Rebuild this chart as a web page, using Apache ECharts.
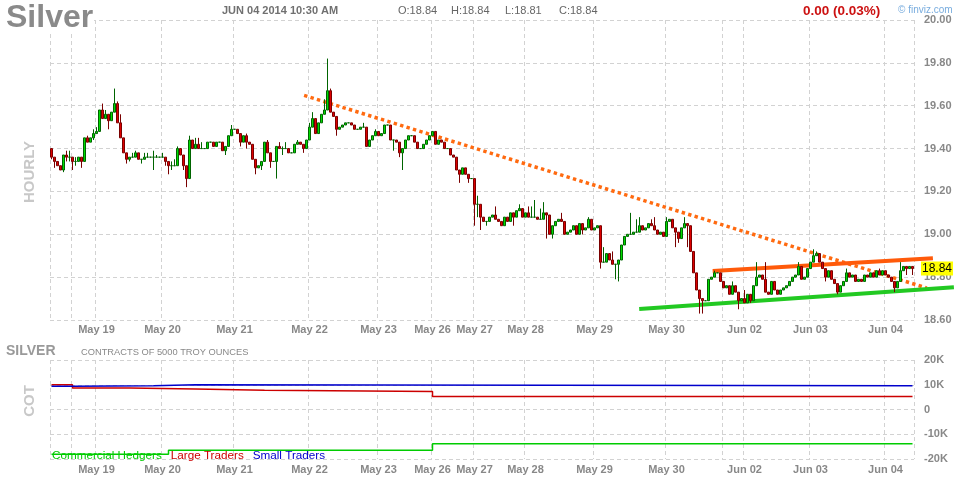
<!DOCTYPE html>
<html><head><meta charset="utf-8">
<script src="https://cdn.jsdelivr.net/npm/echarts@6/dist/echarts.min.js"></script>
<style>html,body{margin:0;padding:0;background:#fff}#c{width:964px;height:480px}</style>
</head><body><div id="c"></div>
<script>
// ---------- data ----------
const firstOpen = 19.40;
const closes = [
19.36,19.34,19.32,19.30,19.37,19.36,19.36,19.34,19.34,19.36,
19.34,19.45,19.43,19.45,19.47,19.48,19.58,19.54,19.56,19.53,
19.57,19.61,19.52,19.45,19.38,19.35,19.36,19.36,19.38,19.35,
19.35,19.36,19.36,19.36,19.36,19.36,19.36,19.36,19.34,19.32,
19.32,19.32,19.40,19.37,19.32,19.26,19.44,19.40,19.42,19.40,
19.40,19.40,19.43,19.43,19.41,19.43,19.43,19.39,19.41,19.46,
19.49,19.49,19.47,19.43,19.46,19.43,19.42,19.35,19.31,19.32,
19.34,19.43,19.38,19.34,19.34,19.41,19.40,19.40,19.40,19.38,
19.38,19.42,19.43,19.42,19.40,19.44,19.50,19.54,19.47,19.52,
19.56,19.58,19.67,19.57,19.55,19.49,19.50,19.51,19.52,19.52,
19.51,19.49,19.49,19.50,19.50,19.41,19.44,19.46,19.48,19.46,
19.47,19.51,19.51,19.44,19.44,19.43,19.38,19.40,19.44,19.46,
19.46,19.43,19.40,19.40,19.42,19.44,19.46,19.48,19.42,19.44,
19.43,19.40,19.40,19.37,19.36,19.30,19.28,19.31,19.28,19.26,
19.26,19.14,19.14,19.08,19.06,19.06,19.08,19.09,19.07,19.06,
19.04,19.08,19.06,19.10,19.08,19.11,19.12,19.08,19.10,19.08,
19.08,19.08,19.07,19.07,19.10,19.09,19.00,19.04,19.06,19.07,
19.06,19.00,19.01,19.02,19.04,19.00,19.05,19.02,19.03,19.07,
19.02,19.03,19.04,18.87,18.87,18.91,18.88,18.86,18.86,18.88,
18.95,18.99,19.00,19.00,19.01,19.01,19.04,19.02,19.03,19.05,
19.04,19.02,19.00,19.01,18.99,19.06,19.07,19.03,19.01,18.98,
19.03,19.05,19.04,18.92,18.82,18.74,18.70,18.69,18.69,18.79,
18.80,18.82,18.82,18.78,18.75,18.76,18.72,18.76,18.73,18.69,
18.70,18.68,18.72,18.69,18.76,18.80,18.81,18.79,18.73,18.72,
18.78,18.74,18.72,18.74,18.75,18.76,18.78,18.80,18.81,18.85,
18.79,18.80,18.84,18.87,18.90,18.91,18.87,18.84,18.80,18.83,
18.79,18.77,18.73,18.76,18.78,18.82,18.80,18.81,18.78,18.79,
18.78,18.81,18.80,18.82,18.80,18.83,18.81,18.83,18.81,18.80,
18.78,18.75,18.78,18.83,18.85,18.84,18.85,18.84
];
const wickHighs = [[0,19.40],[5,19.39],[6,19.39],[8,19.36],[12,19.46],[14,19.49],[15,19.50],[17,19.61],[18,19.58],[21,19.68],[22,19.62],[23,19.56],[27,19.38],[28,19.39],[31,19.38],[32,19.38],[34,19.39],[35,19.37],[37,19.38],[40,19.34],[41,19.35],[42,19.41],[46,19.46],[48,19.45],[49,19.45],[50,19.43],[60,19.51],[65,19.47],
[72,19.44],[76,19.43],[77,19.41],[78,19.43],[82,19.44],[86,19.52],[87,19.57],[91,19.63],[92,19.82],[93,19.68],[104,19.52],[108,19.49],
[142,19.18],[148,19.13],[156,19.14],[159,19.13],[160,19.13],[161,19.16],[163,19.12],[164,19.15],[170,19.10],[179,19.08],
[184,18.94],[187,18.92],[193,19.10],[195,19.07],[196,19.08],[200,19.07],[201,19.08],[205,19.08],[211,19.08],
[221,18.83],[227,18.78],[231,18.74],[235,18.87],[238,18.87],[249,18.87],[254,18.93],[255,18.92],[265,18.84],[276,18.84],[283,18.87]];
const wickLows = [[0,19.35],[1,19.31],[4,19.29],[5,19.34],[6,19.34],[7,19.30],[8,19.32],[10,19.31],[14,19.44],[19,19.49],[25,19.33],[26,19.34],[30,19.33],[34,19.30],[38,19.32],[39,19.28],[40,19.30],[44,19.30],[45,19.22],[58,19.37],[63,19.41],[65,19.40],[68,19.28],[70,19.30],
[73,19.31],[75,19.26],[77,19.37],[84,19.38],[95,19.46],[114,19.39],[116,19.36],[117,19.30],[136,19.24],[139,19.24],[141,19.04],[142,19.08],
[143,19.02],[145,19.04],[154,19.04],[165,18.98],[167,18.98],[177,19.00],
[183,18.84],[188,18.79],[189,18.78],[208,18.94],[209,18.96],[212,18.94],
[216,18.63],[217,18.63],[229,18.65],[233,18.68],[258,18.78],[262,18.72],[281,18.73],[285,18.81],[287,18.81]];

const dayLabels = ['May 19','May 20','May 21','May 22','May 23','May 26','May 27','May 28','May 29','May 30','Jun 02','Jun 03','Jun 04'];
const dayStarts = [15,37,61,86,109,127,141,158,181,205,231,253,278];
const extraGridStarts = [7,224];
const lastPrice = 18.84;

// COT (thousands of contracts), [bar index, value]
const commercialHedgers = [[0,-18.1],[39,-16.5],[127,-13.8],[287,-13.8]];
const largeTraders = [[0,10.0],[7,8.7],[26,8.3],[48,7.8],[71,7.3],[127,5.3],[287,5.3]];
const smallTraders = [[0,9.4],[7,9.6],[34,10.0],[48,9.6],[287,9.6]];

// trend lines, [bar position, price]
const downTrend = [[84.7,19.648],[292.3,18.749]];
const upperChannel = [[220.9,18.829],[294.3,18.888]];
const lowerChannel = [[196.4,18.651],[301.3,18.753]];

// ---------- build ----------
const FONT = '"Liberation Sans", Arial, sans-serif';
const N = closes.length;
const hiMap = {}, loMap = {};
wickHighs.forEach(([i,v]) => hiMap[i] = v);
wickLows.forEach(([i,v]) => loMap[i] = v);
const candles = closes.map((c,i) => {
  const o = i === 0 ? firstOpen : closes[i-1];
  let h = Math.max(o,c), l = Math.min(o,c);
  if (hiMap[i] != null) h = Math.max(h, hiMap[i]);
  if (loMap[i] != null) l = Math.min(l, loMap[i]);
  return [o,c,l,h];
});
const cats = [];
for (let i = 0; i < N; i++) {
  let lab = 'May 16';
  for (let k = 0; k < dayStarts.length; k++) if (i >= dayStarts[k]) lab = dayLabels[k];
  cats.push(lab);
}
const labelSet = new Set(dayStarts);
const gridSet = new Set(dayStarts.concat(extraGridStarts));
const dash = {color:'#d2d2d2', width:1, type:[4,3]};
const axLabel = {color:'#888', fontSize:11, fontWeight:'bold', fontFamily:FONT};

function catAxis(g, margin) {
  return {
    type:'category', gridIndex:g, data:cats, boundaryGap:true,
    axisLine:{show:false}, axisTick:{show:false},
    axisLabel:Object.assign({margin:margin, interval:(idx)=>labelSet.has(idx), hideOverlap:false}, axLabel),
    splitLine:{show:true, interval:(idx)=>gridSet.has(idx), lineStyle:dash}
  };
}
function edgeAxis(g) {
  return {type:'value', gridIndex:g, min:0, max:N, interval:N,
    axisLine:{show:false}, axisTick:{show:false}, axisLabel:{show:false},
    splitLine:{show:true, lineStyle:dash}};
}
// wide overlay grid for trend lines that run past the plot's right edge (3 px per bar, like the candles)
const overlayWidth = 914;
const lineFont = {fontSize:11.7, fontFamily:FONT};

const chart = echarts.init(document.getElementById('c'), null, {renderer:'canvas'});
const option = {
  animation:false,
  backgroundColor:'#fff',
  textStyle:{fontFamily:FONT},
  grid:[{left:50, right:50, top:20, height:300}, {left:50, right:50, top:360, height:99},
        {left:50, width:overlayWidth, top:20, height:300}],
  xAxis:[catAxis(0,4), edgeAxis(0), catAxis(1,5), edgeAxis(1),
         {type:'value', gridIndex:2, min:0, max:overlayWidth/3, show:false}],
  yAxis:[
    {type:'value', gridIndex:0, position:'right', min:18.6, max:20, interval:0.2,
     axisLine:{show:false}, axisTick:{show:false},
     axisLabel:Object.assign({margin:10, formatter:(v)=>v.toFixed(2)}, axLabel),
     splitLine:{show:true, lineStyle:dash}},
    {type:'value', gridIndex:1, position:'right', min:-20, max:20, interval:10,
     axisLine:{show:false}, axisTick:{show:false},
     axisLabel:Object.assign({margin:10, formatter:(v)=> v===0 ? '0' : (v + 'K')}, axLabel),
     splitLine:{show:true, lineStyle:dash}},
    {type:'value', gridIndex:2, min:18.6, max:20, show:false}
  ],
  legend:{left:42, top:445, icon:'none', itemWidth:0, itemHeight:10, itemGap:4, selectedMode:false,
    textStyle:lineFont,
    data:[{name:'Commercial Hedgers', textStyle:Object.assign({color:'#00cc00'}, lineFont)},
          {name:'Large Traders', textStyle:Object.assign({color:'#cc0000'}, lineFont)},
          {name:'Small Traders', textStyle:Object.assign({color:'#0000cc'}, lineFont)}]},
  series:[
    {type:'line', name:'down trend', xAxisIndex:4, yAxisIndex:2, data:downTrend, clip:false, symbol:'none', z:1,
     lineStyle:{color:'#ff6a10', width:3.5, type:[3.4,3.3], cap:'butt'}},
    {type:'line', name:'upper channel', xAxisIndex:4, yAxisIndex:2, data:upperChannel, clip:false, symbol:'none', z:1,
     lineStyle:{color:'#ff5a0a', width:4}},
    {type:'line', name:'lower channel', xAxisIndex:4, yAxisIndex:2, data:lowerChannel, clip:false, symbol:'none', z:1,
     lineStyle:{color:'#22c922', width:4}},
    {type:'candlestick', name:'Silver', xAxisIndex:0, yAxisIndex:0, data:candles, barWidth:2.6, z:3,
     itemStyle:{color:'#00dd00', color0:'#dd0000', borderColor:'#006400', borderColor0:'#7a0000', borderColorDoji:'#006400', borderWidth:1},
     markLine:{silent:true, symbol:['none','none'], animation:false, data:[{yAxis:lastPrice}],
       lineStyle:{color:'rgba(255,255,255,0)', width:0},
       label:{show:true, position:'end', distance:7, formatter:lastPrice.toFixed(2), backgroundColor:'#ffff00',
         color:'#000', fontSize:12, fontFamily:FONT, padding:[1,1,1,1], opacity:1}}},
    {type:'line', name:'Commercial Hedgers', xAxisIndex:2, yAxisIndex:1, data:commercialHedgers, step:'end', symbol:'none',
     lineStyle:{color:'#00cc00', width:1.5}, itemStyle:{color:'#00cc00'}},
    {type:'line', name:'Large Traders', xAxisIndex:2, yAxisIndex:1, data:largeTraders, step:'end', symbol:'none',
     lineStyle:{color:'#cc0000', width:1.5}, itemStyle:{color:'#cc0000'}},
    {type:'line', name:'Small Traders', xAxisIndex:2, yAxisIndex:1, data:smallTraders, step:'end', symbol:'none',
     lineStyle:{color:'#0000cc', width:1.5}, itemStyle:{color:'#0000cc'}}
  ],
  graphic:[
    {type:'rect', shape:{x:4, y:2, width:90, height:30}, style:{fill:'#fff'}, z:10},
    {type:'text', x:6, y:18, z:11, style:{text:'Silver', font:'bold 32px ' + FONT, fill:'#8a8a8a', textVerticalAlign:'middle', verticalAlign:'middle'}},
    {type:'text', x:222, y:11, z:11, style:{text:'JUN 04 2014 10:30 AM', font:'bold 11px ' + FONT, fill:'#707070', textVerticalAlign:'middle', verticalAlign:'middle'}},
    {type:'text', x:398, y:11, z:11, style:{text:'O:18.84', font:'11px ' + FONT, fill:'#666', textVerticalAlign:'middle', verticalAlign:'middle'}},
    {type:'text', x:451, y:11, z:11, style:{text:'H:18.84', font:'11px ' + FONT, fill:'#666', textVerticalAlign:'middle', verticalAlign:'middle'}},
    {type:'text', x:505, y:11, z:11, style:{text:'L:18.81', font:'11px ' + FONT, fill:'#666', textVerticalAlign:'middle', verticalAlign:'middle'}},
    {type:'text', x:559, y:11, z:11, style:{text:'C:18.84', font:'11px ' + FONT, fill:'#666', textVerticalAlign:'middle', verticalAlign:'middle'}},
    {type:'text', x:803, y:11, z:11, style:{text:'0.00 (0.03%)', font:'bold 13.5px ' + FONT, fill:'#cc1111', textVerticalAlign:'middle', verticalAlign:'middle'}},
    {type:'text', x:898, y:10, z:11, style:{text:'\u00a9 finviz.com', font:'10px ' + FONT, fill:'#78acde', textVerticalAlign:'middle', verticalAlign:'middle'}},
    {type:'text', x:30, y:172, z:11, rotation:Math.PI/2, style:{text:'HOURLY', font:'bold 15px ' + FONT, fill:'#c8c8c8', textAlign:'center', align:'center', textVerticalAlign:'middle', verticalAlign:'middle'}},
    {type:'text', x:6, y:351, z:11, style:{text:'SILVER', font:'bold 14px ' + FONT, fill:'#999', textVerticalAlign:'middle', verticalAlign:'middle'}},
    {type:'text', x:81, y:352, z:11, style:{text:'CONTRACTS OF 5000 TROY OUNCES', font:'9.3px ' + FONT, fill:'#888', textVerticalAlign:'middle', verticalAlign:'middle'}},
    {type:'text', x:30, y:401, z:11, rotation:Math.PI/2, style:{text:'COT', font:'bold 15px ' + FONT, fill:'#c8c8c8', textAlign:'center', align:'center', textVerticalAlign:'middle', verticalAlign:'middle'}}
  ]
};
chart.setOption(option);
</script>
</body></html>
